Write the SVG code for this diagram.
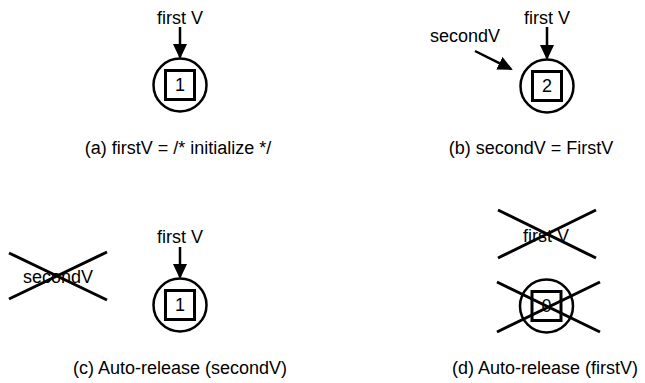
<svg xmlns="http://www.w3.org/2000/svg" width="645" height="383" viewBox="0 0 645 383">
  <style>
    text { font-family: "Liberation Sans", Arial, Helvetica, sans-serif; fill: #000; }
    .lbl { font-size: 18px; text-anchor: middle; }
    .cap { font-size: 18px; text-anchor: middle; }
    .num { font-size: 18px; text-anchor: middle; }
    .obj { fill: none; stroke: #000; stroke-width: 2.5; }
    .box { fill: none; stroke: #000; stroke-width: 3; }
    .cross { stroke: #000; stroke-width: 3; fill: none; }
    .ref { stroke: #000; stroke-width: 2.5; fill: none; marker-end: url(#head); }
  </style>
  <defs>
    <marker id="head" markerUnits="userSpaceOnUse" viewBox="0 0 15 14" refX="13" refY="7" markerWidth="15" markerHeight="14" orient="auto">
      <path d="M0,0 L15,7 L0,14 z" fill="#000"/>
    </marker>
  </defs>

  <!-- (a) -->
  <g id="a-firstV"><text class="lbl" x="180" y="24">first V</text></g>
  <g id="a-object">
    <circle class="obj" cx="180" cy="85" r="26.5"/>
    <rect class="box" x="165.5" y="70.5" width="29" height="29"/>
    <text class="num" x="180" y="91">1</text>
  </g>
  <g id="a-caption"><text class="cap" x="178" y="154">(a) firstV = /* initialize */</text></g>

  <!-- (b) -->
  <g id="b-firstV"><text class="lbl" x="547" y="24">first V</text></g>
  <g id="b-secondV"><text class="lbl" x="465" y="42">secondV</text></g>
  <g id="b-object">
    <circle class="obj" cx="547" cy="86" r="26.5"/>
    <rect class="box" x="532.5" y="71.5" width="29" height="29"/>
    <text class="num" x="547" y="92">2</text>
  </g>
  <g id="b-caption"><text class="cap" x="531" y="154">(b) secondV = FirstV</text></g>

  <!-- (c) -->
  <g id="c-secondV">
    <text class="lbl" x="58" y="283">secondV</text>
    <path class="cross" d="M9,253 L107,300 M9,299 L107,252"/>
  </g>
  <g id="c-firstV"><text class="lbl" x="180" y="243">first V</text></g>
  <g id="c-object">
    <circle class="obj" cx="180" cy="305" r="26.5"/>
    <rect class="box" x="165.5" y="290.5" width="29" height="29"/>
    <text class="num" x="180" y="311">1</text>
  </g>
  <g id="c-caption"><text class="cap" x="180" y="374">(c) Auto-release (secondV)</text></g>

  <!-- (d) -->
  <g id="d-firstV">
    <text class="lbl" x="546" y="242">first V</text>
    <path class="cross" d="M498,210 L596,258 M498,258 L596,210"/>
  </g>
  <g id="d-object">
    <circle class="obj" cx="546.5" cy="306" r="26.5"/>
    <rect class="box" x="532" y="291.5" width="29" height="29"/>
    <text class="num" x="546.5" y="312">0</text>
    <path class="cross" d="M497,282 L600,332 M497,332 L600,282"/>
  </g>
  <g id="d-caption"><text class="cap" x="545" y="374">(d) Auto-release (firstV)</text></g>

  <!-- references -->
  <g id="connectors">
    <path class="ref" d="M180,27 L180,57"/>
    <path class="ref" d="M547,27 L547,58"/>
    <path class="ref" d="M475,51 L511,69"/>
    <path class="ref" d="M180,247 L180,277"/>
  </g>
</svg>
